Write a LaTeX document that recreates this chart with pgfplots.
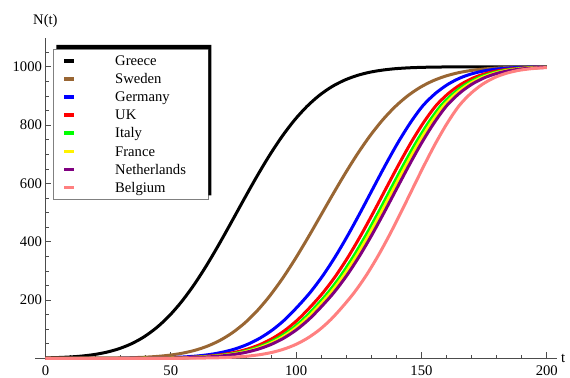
\documentclass[border=0pt]{standalone}
\usepackage{fontspec}
\setmainfont{Liberation Serif}
\usepackage{pgfplots}
\pgfplotsset{compat=1.18}
\definecolor{mBrown}{rgb}{0.6,0.4,0.2}
\definecolor{mPurple}{rgb}{0.5,0,0.5}
\definecolor{mPink}{rgb}{1,0.5,0.5}
\newcommand{\lf}{\fontsize{14.7}{16}\selectfont}
\begin{document}
\begin{tikzpicture}
\begin{axis}[
  scale only axis, width=521.4bp, height=320.65bp,
  xmin=-4, xmax=204, ymin=0, ymax=1100,
  axis lines=middle,
  axis line style={-, black!70, line width=0.6bp},
  hide obscured x ticks=false,
  xtick={0,50,100,150,200}, ytick={200,400,600,800,1000},
  minor xtick={10,20,30,40,60,70,80,90,110,120,130,140,160,170,180,190},
  minor ytick={50,100,150,250,300,350,450,500,550,650,700,750,850,900,950,1050},
  tick align=inside,
  major tick length=6bp, minor tick length=3.5bp,
  every tick/.style={black!70, line width=0.6bp},
  scaled ticks=false,
  ticklabel style={font=\lf, /pgf/number format/assume math mode=true, /pgf/number format/1000 sep={}},
  xticklabel style={yshift=-3.5bp},
  clip=false,
  every axis plot/.append style={line width=3bp, smooth},
  legend cell align=left,
  legend image code/.code={\draw[#1, line width=3.5bp] (0bp,0bp) -- (10bp,0bp);},
  legend style={name=leg, at={(axis description cs:0.0345,0.9646)}, anchor=north west,
    draw=black!50, line width=0.6bp, fill=white,
    inner xsep=9bp, inner ysep=2.5bp, row sep=0pt, column sep=39bp,
    font=\lf,
    nodes={inner sep=0pt, text height=13.75bp, text depth=4.35bp}},
]
% Greece
\addplot[black] coordinates {(0,1.4) (4.3,2.4) (9.3,4.3) (14.3,7.5) (19.3,12.7) (24.3,20.7) (29.3,32.7) (34.3,49.8) (39.3,73.4) (44.3,104.8) (49.3,144.8) (54.3,194.1) (59.3,252.4) (64.3,318.9) (69.3,391.9) (74.3,468.8) (79.3,546.8) (84.3,623.1) (89.3,694.9) (94.3,759.9) (99.3,816.5) (104.3,863.9) (109.3,902.2) (114.3,931.9) (119.3,954.1) (124.3,970.1) (129.3,981.2) (134.3,988.5) (139.3,993.3) (144.3,996.2) (149.3,997.9) (154.3,998.9) (159.3,999.4) (169.3,999.9) (200,1000)};
\addlegendentry{\makebox[84bp][l]{Greece}}
% Sweden
\addplot[mBrown] coordinates {(0,0) (19.5,0.3) (29.5,1.1) (34.5,2.1) (39.5,3.7) (44.5,6.4) (49.5,10.7) (54.5,17.3) (59.5,27.1) (64.5,41.3) (69.5,60.9) (74.5,87.2) (79.5,121.0) (84.5,163.3) (89.5,214.1) (94.5,273.0) (99.5,339.0) (104.5,410.4) (109.5,485.0) (114.5,560.0) (119.5,632.9) (124.5,701.4) (129.5,763.3) (134.5,817.5) (139.5,863.1) (144.5,900.3) (149.5,929.5) (154.5,951.6) (159.5,967.8) (164.5,979.2) (169.5,987.0) (174.5,992.1) (179.5,995.4) (184.5,997.4) (189.5,998.6) (194.5,999.2) (200,999.6)};
\addlegendentry{\makebox[84bp][l]{Sweden}}
% Germany
\addplot[blue] coordinates {(0,0) (25.6,0.1) (35.6,0.4) (45.6,1.5) (50.6,2.7) (55.6,4.8) (60.6,8.0) (65.6,13.1) (70.6,20.8) (75.6,32.0) (80.6,47.8) (85.6,69.3) (90.6,97.5) (95.6,133.3) (100.6,177.2) (105.6,225.7) (110.6,282.7) (115.6,348.3) (120.6,421.4) (125.6,500) (130.6,581.5) (135.6,662.5) (140.6,739.3) (145.6,808.2) (150.6,866.7) (155.6,908.8) (160.6,940.1) (165.6,962.3) (170.6,977.2) (175.6,986.9) (180.6,992.7) (185.6,996.2) (190.6,998.1) (195.6,999.1) (200,999.5)};
\addlegendentry{\makebox[84bp][l]{Germany}}
% UK
\addplot[red] coordinates {(0,0) (30.8,0.1) (40.8,0.4) (50.8,1.5) (55.8,2.7) (60.8,4.8) (65.8,8.0) (70.8,13.1) (75.8,20.8) (80.8,32.0) (85.8,47.8) (90.8,69.3) (95.8,97.5) (100.8,133.3) (105.8,177.2) (110.8,225.7) (115.8,282.7) (120.8,348.3) (125.8,421.4) (130.8,500) (135.8,581.5) (140.8,662.5) (145.8,739.3) (150.8,808.2) (155.8,866.7) (160.8,908.8) (165.8,940.1) (170.8,962.3) (175.8,977.2) (180.8,986.9) (185.8,992.7) (190.8,996.2) (195.8,998.1) (200,998.9)};
\addlegendentry{\makebox[84bp][l]{UK}}
% Italy
\addplot[green] coordinates {(0,0) (32.8,0.1) (42.8,0.4) (52.8,1.5) (57.8,2.7) (62.8,4.8) (67.8,8.0) (72.8,13.1) (77.8,20.8) (82.8,32.0) (87.8,47.8) (92.8,69.3) (97.8,97.5) (102.8,133.3) (107.8,177.2) (112.8,225.7) (117.8,282.7) (122.8,348.3) (127.8,421.4) (132.8,500) (137.8,581.5) (142.8,662.5) (147.8,739.3) (152.8,808.2) (157.8,866.7) (162.8,908.8) (167.8,940.1) (172.8,962.3) (177.8,977.2) (182.8,986.9) (187.8,992.7) (192.8,996.2) (197.8,998.1) (200,998.6)};
\addlegendentry{\makebox[84bp][l]{Italy}}
% France
\addplot[yellow] coordinates {(0,0) (33.9,0.1) (43.9,0.4) (53.9,1.5) (58.9,2.7) (63.9,4.8) (68.9,8.0) (73.9,13.1) (78.9,20.8) (83.9,32.0) (88.9,47.8) (93.9,69.3) (98.9,97.5) (103.9,133.3) (108.9,177.2) (113.9,225.7) (118.9,282.7) (123.9,348.3) (128.9,421.4) (133.9,500) (138.9,581.5) (143.9,662.5) (148.9,739.3) (153.9,808.2) (158.9,866.7) (163.9,908.8) (168.9,940.1) (173.9,962.3) (178.9,977.2) (183.9,986.9) (188.9,992.7) (193.9,996.2) (198.9,998.1) (200,998.4)};
\addlegendentry{\makebox[84bp][l]{France}}
% Netherlands
\addplot[mPurple] coordinates {(0,0) (35.1,0.1) (45.1,0.4) (55.1,1.5) (60.1,2.7) (65.1,4.8) (70.1,8.0) (75.1,13.1) (80.1,20.8) (85.1,32.0) (90.1,47.8) (95.1,69.3) (100.1,97.5) (105.1,133.3) (110.1,177.2) (115.1,225.7) (120.1,282.7) (125.1,348.3) (130.1,421.4) (135.1,500) (140.1,581.5) (145.1,662.5) (150.1,739.3) (155.1,808.2) (160.1,866.7) (165.1,908.8) (170.1,940.1) (175.1,962.3) (180.1,977.2) (185.1,986.9) (190.1,992.7) (195.1,996.2) (200,998.0)};
\addlegendentry{\makebox[84bp][l]{Netherlands}}
% Belgium
\addplot[mPink] coordinates {(0,0) (48.8,0.1) (58.1,0.4) (67.4,1.5) (72.05,2.7) (76.7,4.8) (81.35,8.0) (86.0,13.1) (90.65,20.8) (95.3,32.0) (99.95,47.8) (104.6,69.3) (109.25,97.5) (113.9,133.3) (118.55,177.2) (123.2,225.7) (127.85,282.7) (132.5,348.3) (137.15,421.4) (141.8,500) (146.45,581.5) (151.1,662.5) (155.75,739.3) (160.4,808.2) (165.05,866.7) (169.7,908.8) (174.35,940.1) (179.0,962.3) (183.65,977.2) (188.3,986.9) (192.95,992.7) (197.6,996.2) (200,997.3)};
\addlegendentry{\makebox[84bp][l]{Belgium}}
\node[anchor=base, inner sep=0pt, font=\lf, yshift=12.65bp] at (axis cs:0,1100) {N(t)};
\node[anchor=west, inner sep=0pt, font=\lf, xshift=4bp] at (axis cs:204,0) {t};
\end{axis}
\fill[black] ([xshift=3bp]leg.north west) -- ([xshift=3bp,yshift=4bp]leg.north west)
  -- ([xshift=3bp,yshift=4bp]leg.north east) -- ([xshift=3bp,yshift=4bp]leg.south east)
  -- ([yshift=4bp]leg.south east) -- (leg.north east) -- cycle;
\pgfresetboundingbox
\path[use as bounding box] (-35.4bp,-19.7bp) rectangle (534.6bp,358.3bp);
\end{tikzpicture}
\end{document}
